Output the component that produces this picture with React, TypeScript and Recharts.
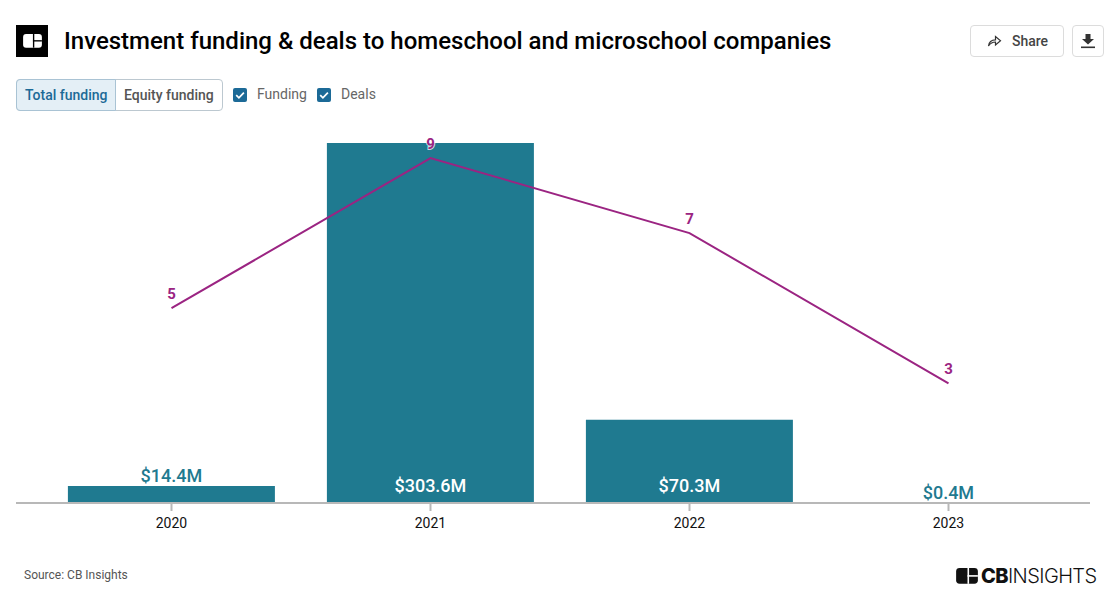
import React from "react";
import { ComposedChart, Bar, Line, XAxis, YAxis, LabelList } from "recharts";

const years = ["2020", "2021", "2022", "2023"];
const funding = [14.4, 303.6, 70.3, 0.4];
const deals = [5, 9, 7, 3];
const data = years.map((year, i) => ({ year, funding: funding[i], deals: deals[i] }));

const TEAL = "#1f7a90";
const PURPLE = "#9b2482";
const FONT = "Roboto, sans-serif";

const FundingLabel = (props: any) => {
  const { x, y, width, height, value } = props;
  const inside = height > 30;
  return (
    <text
      x={x + width / 2}
      y={inside ? y + height - 11 : y - 4}
      textAnchor="middle"
      fontFamily={FONT}
      fontSize={18}
      fontWeight={500}
      fill={inside ? "#ffffff" : TEAL}
    >
      {`$${value}M`}
    </text>
  );
};

const DealLabel = (props: any) => {
  const { x, y, value } = props;
  return (
    <text
      x={x}
      y={y - 9}
      textAnchor="middle"
      fontFamily={FONT}
      fontSize={15}
      fontWeight={700}
      fill={PURPLE}
      stroke="#ffffff"
      strokeWidth={2}
      strokeOpacity={0.75}
      paintOrder="stroke"
    >
      {value}
    </text>
  );
};

const box = (left: number, top: number, width: number, height: number): React.CSSProperties => ({
  position: "absolute",
  left,
  top,
  width,
  height,
  boxSizing: "border-box",
});

const Check = ({ left }: { left: number }) => (
  <svg style={{ position: "absolute", left, top: 88 }} width={14} height={14} viewBox="0 0 14 14">
    <rect width={14} height={14} rx={2} fill="#1c6a97" />
    <path d="M3.2 7.2 L5.9 9.9 L10.9 4.6" fill="none" stroke="#fff" strokeWidth={1.7} />
  </svg>
);

const Logo = ({ size, fg, bg }: { size: number; fg: string; bg: string }) => (
  <svg width={size} height={size * 0.72} viewBox="0 0 22 16" style={{ display: "block" }}>
    <rect x={0} y={0} width={22} height={16} rx={3.5} fill={fg} />
    <rect x={11.5} y={7.2} width={10.5} height={1.6} fill={bg} />
    <rect x={11.5} y={0} width={1.6} height={16} fill={bg} />
  </svg>
);

const labelText = (left: number, top: number, text: string, extra: React.CSSProperties = {}) => (
  <div
    style={{
      position: "absolute",
      left,
      top,
      fontFamily: FONT,
      fontSize: 14,
      lineHeight: "20px",
      whiteSpace: "nowrap",
      ...extra,
    }}
  >
    {text}
  </div>
);

export default function App() {
  return (
    <div style={{ position: "absolute", left: 0, top: 0, width: 1115, height: 600, background: "#fff", overflow: "hidden" }}>
      <div style={{ ...box(16, 25, 32, 32), background: "#000", display: "flex", alignItems: "center", justifyContent: "center" }}>
        <Logo size={19} fg="#fff" bg="#000" />
      </div>
      <div
        style={{
          position: "absolute",
          left: 64,
          top: 25,
          fontFamily: FONT,
          fontSize: 24,
          lineHeight: "32px",
          fontWeight: 500,
          color: "#000",
          whiteSpace: "nowrap",
        }}
      >
        Investment funding &amp; deals to homeschool and microschool companies
      </div>

      <div style={{ ...box(970, 25, 94, 32), border: "1px solid #dcdcdc", borderRadius: 4 }} />
      <svg style={{ position: "absolute", left: 987, top: 34 }} width={15} height={14} viewBox="0 0 15 14">
        <path d="M1.5 12 C2 7.5 5 5.8 8.5 5.8 V2.5 L13.5 6.8 L8.5 11 V8 C5.5 8 3.5 9 1.5 12 Z" fill="none" stroke="#333" strokeWidth={1.2} />
      </svg>
      {labelText(1012, 31, "Share", { color: "#444", fontWeight: 500 })}
      <div style={{ ...box(1072, 25, 32, 32), border: "1px solid #dcdcdc", borderRadius: 4 }} />
      <svg style={{ position: "absolute", left: 1080, top: 33 }} width={16} height={16} viewBox="0 0 16 16">
        <path d="M5.5 1 H10.5 V6 H14 L8 11.5 L2 6 H5.5 Z" fill="#333" />
        <rect x={1} y={13.5} width={14} height={1.6} fill="#333" />
      </svg>

      <div style={{ ...box(16, 79, 207, 32), border: "1px solid #bcc8d0", borderRadius: 4 }} />
      <div style={{ ...box(16, 79, 100, 32), background: "#e4eff6", border: "1px solid #a9c3d4", borderRadius: "4px 0 0 4px" }} />
      {labelText(25, 85, "Total funding", { color: "#1c6a97", fontWeight: 500 })}
      {labelText(124, 85, "Equity funding", { color: "#555", fontWeight: 500 })}
      <Check left={233} />
      {labelText(257, 84, "Funding", { color: "#666" })}
      <Check left={317} />
      {labelText(341, 84, "Deals", { color: "#666" })}

      <div style={{ position: "absolute", left: 0, top: 0 }}>
        <ComposedChart
          width={1115}
          height={600}
          data={data}
          margin={{ top: 143, right: 25, bottom: 67, left: 16 }}
          barCategoryGap="10%"
        >
          <XAxis
            dataKey="year"
            height={30}
            padding={{ left: 26, right: 12 }}
            axisLine={{ stroke: "#b8b8b8", strokeWidth: 2 }}
            tickLine={{ stroke: "#b8b8b8", strokeWidth: 2 }}
            tickSize={8}
            tick={{ fill: "#111", fontFamily: FONT, fontSize: 14 }}
            tickMargin={7}
          />
          <YAxis yAxisId="funding" hide domain={[0, 303.6]} />
          <YAxis yAxisId="deals" hide orientation="right" domain={[-0.187, 9.4]} />
          <Bar yAxisId="funding" dataKey="funding" fill={TEAL} isAnimationActive={false}>
            <LabelList dataKey="funding" content={FundingLabel} />
          </Bar>
          <Line
            yAxisId="deals"
            dataKey="deals"
            stroke={PURPLE}
            strokeWidth={2}
            dot={false}
            type="linear"
            isAnimationActive={false}
          >
            <LabelList dataKey="deals" content={DealLabel} />
          </Line>
        </ComposedChart>
      </div>

      {labelText(24, 565, "Source: CB Insights", { fontSize: 12, color: "#555" })}
      <div style={{ position: "absolute", left: 956, top: 568 }}>
        <Logo size={22} fg="#111" bg="#fff" />
      </div>
      <div
        style={{
          position: "absolute",
          left: 981,
          top: 562,
          fontFamily: "Inter, sans-serif",
          fontSize: 20,
          lineHeight: "28px",
          color: "#111",
          whiteSpace: "nowrap",
          letterSpacing: -0.6,
        }}
      >
        <span style={{ fontWeight: 800 }}>CB</span>
        <span style={{ fontWeight: 300 }}>INSIGHTS</span>
      </div>
    </div>
  );
}
